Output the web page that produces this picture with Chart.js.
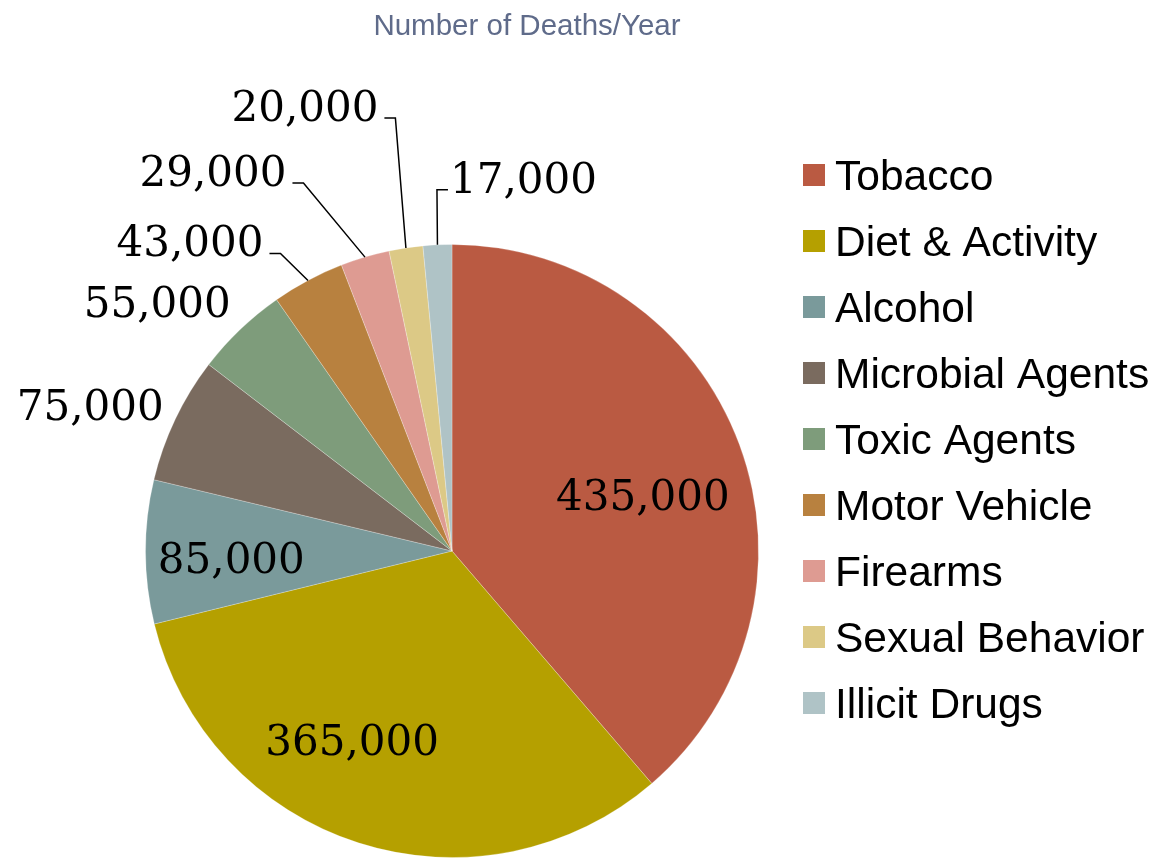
<!DOCTYPE html>
<html>
<head>
<meta charset="utf-8">
<script src="https://cdn.jsdelivr.net/npm/chart.js@4"></script>
<style>
  body { margin: 0; background: #fff; }
  #wrap { width: 1153px; height: 858px; position: relative; }
</style>
</head>
<body>
<div id="wrap"><canvas id="myChart"></canvas></div>
<script>
var categories = ['Tobacco', 'Diet & Activity', 'Alcohol', 'Microbial Agents', 'Toxic Agents',
                  'Motor Vehicle', 'Firearms', 'Sexual Behavior', 'Illicit Drugs'];
var deaths = [435000, 365000, 85000, 75000, 55000, 43000, 29000, 20000, 17000];
var colors = ['#BA5A42', '#B5A000', '#7A9A9B', '#7A6B5F', '#7E9C7B',
              '#B8813F', '#DE9B92', '#DCC986', '#AFC3C6'];

// where each value label sits: r = fraction of radius along the slice middle, then a nudge
var placement = [
    { r: 0.65, dx: 4, dy: 17 },
    { r: 0.65, dx: -39, dy: 3 },
    { r: 0.72, dx: 0, dy: 10 },
    { r: 1, dx: -85, dy: -10 },
    { r: 1, dx: -83, dy: -23 },
    { r: 1, dx: -118, dy: -35, leader: true },
    { r: 1, dx: -152, dy: -82, leader: true },
    { r: 1, dx: -101, dy: -138, leader: true },
    { r: 1, dx: 86, dy: -63, leader: true }
];

var labelsPlugin = {
    id: 'labelsPlugin',
    afterDraw: function (chart) {
        var ctx = chart.ctx;
        ctx.save();

        // title
        ctx.fillStyle = '#5F6B8A';
        ctx.font = '29.5px "Liberation Sans", Arial, sans-serif';
        ctx.textAlign = 'center';
        ctx.textBaseline = 'alphabetic';
        ctx.fillText('Number of Deaths/Year', 527, 35);

        // legend
        ctx.font = '42.5px "Liberation Sans", Arial, sans-serif';
        ctx.textAlign = 'left';
        chart.data.labels.forEach(function (lbl, i) {
            var cy = 175 + i * 66;
            ctx.fillStyle = chart.data.datasets[0].backgroundColor[i];
            ctx.fillRect(803, cy - 11, 22, 22);
            ctx.fillStyle = '#000';
            ctx.fillText(lbl, 835, cy + 15);
        });

        // value labels
        var meta = chart.getDatasetMeta(0);
        ctx.font = '42px "DejaVu Serif", serif';
        ctx.textBaseline = 'middle';
        ctx.textAlign = 'center';
        meta.data.forEach(function (arc, i) {
            var p = arc.getProps(['x', 'y', 'startAngle', 'endAngle', 'outerRadius'], true);
            var mid = (p.startAngle + p.endAngle) / 2;
            var pl = placement[i];
            var ax = p.x + Math.cos(mid) * p.outerRadius * pl.r;
            var ay = p.y + Math.sin(mid) * p.outerRadius * pl.r;
            var lx = ax + pl.dx, ly = ay + pl.dy;
            var text = chart.data.datasets[0].data[i].toLocaleString('en-US');
            ctx.fillStyle = '#000';
            ctx.fillText(text, lx, ly);
            if (pl.leader) {
                var w = ctx.measureText(text).width;
                var lineY = ly + 8;
                var elbowX, endX;
                if (lx < ax) {
                    elbowX = lx + w / 2 + 17;
                    endX = lx + w / 2 + 6;
                } else {
                    elbowX = lx - w / 2 - 13;
                    endX = lx - w / 2 - 2;
                }
                ctx.strokeStyle = '#000';
                ctx.lineWidth = 1.5;
                ctx.beginPath();
                ctx.moveTo(ax, ay);
                ctx.lineTo(elbowX, lineY);
                ctx.lineTo(endX, lineY);
                ctx.stroke();
            }
        });
        ctx.restore();
    }
};

var ctx = document.getElementById('myChart').getContext('2d');
var myChart = new Chart(ctx, {
    type: 'pie',
    data: {
        labels: categories,
        datasets: [{
            label: 'Number of Deaths/Year',
            data: deaths,
            backgroundColor: colors,
            borderColor: 'rgba(255,255,255,0.25)',
            borderWidth: 1
        }]
    },
    options: {
        responsive: true,
        maintainAspectRatio: false,
        animation: false,
        layout: {
            padding: { left: 145, right: 394, top: 244, bottom: 0 }
        },
        plugins: {
            legend: { display: false },
            title: { display: false },
            tooltip: { enabled: false }
        }
    },
    plugins: [labelsPlugin]
});
</script>
</body>
</html>
